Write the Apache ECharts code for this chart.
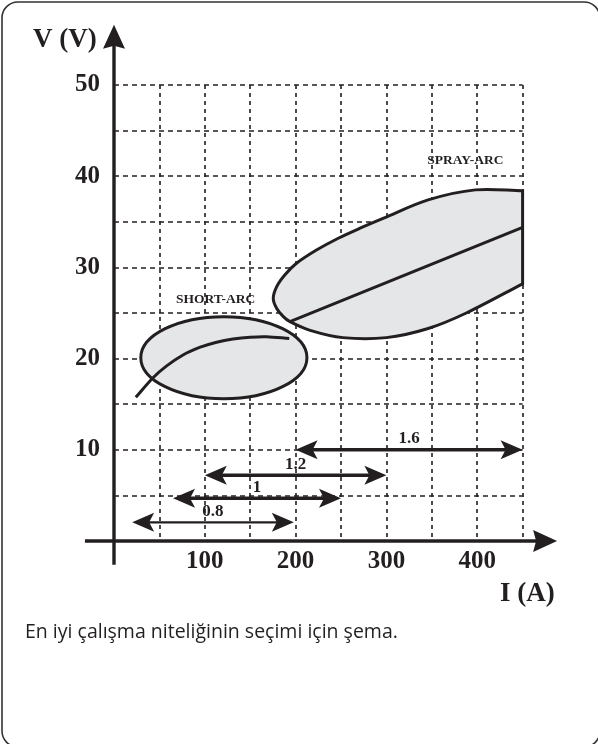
<!DOCTYPE html>
<html>
<head>
<meta charset="utf-8">
<script src="https://cdn.jsdelivr.net/npm/echarts@6/dist/echarts.min.js"></script>
<style>
  html, body { margin: 0; padding: 0; background: #fff; }
  #chart { width: 598px; height: 744px; }
</style>
</head>
<body>
<div id="chart"></div>
<script>
// ---- values ----
const xTickLabels = [100, 200, 300, 400];
const yTickLabels = [10, 20, 30, 40, 50];

// axis arrows: [start x, start y, tip x, tip y] in A / V
const axisLines = [[-32, 0, 488, 0], [0, -2.6, 0, 56.6]];

// short-arc working zone: centre (A, V) and half-widths (A, V)
const shortArcZone = [121, 20.1, 91.5, 4.5];
const shortArcCurve = [[24, 15.75], [43, 17.9], [58, 19.2], [76, 20.4], [95, 21.25], [113, 21.8], [131, 22.15], [150, 22.35], [168, 22.4], [193, 22.2]];

// spray-arc working zone outline
const sprayUpper = [[175.4, 26.6], [179.2, 27.9], [188.3, 29.2], [201, 30.45], [223, 31.9], [247, 33.2], [271, 34.3], [297, 35.4], [346, 37.4], [398, 38.5], [450, 38.4]];
const sprayLower = [[175.4, 26.6], [179.2, 25.5], [186.5, 24.6], [193.8, 24.05], [216, 23.1], [252, 22.3], [300, 22.3], [346, 23.3], [388, 25.0], [450, 28.2]];
const sprayCurve = [[193.8, 24.05], [450, 34.4]];

// wire diameter current ranges
const wireSizes = ['1.6', '1.2', '1', '0.8'];
const wireStart = [200, 100, 65, 20];
const wireEnd = [450, 300, 250, 198];
const wireLevel = [10, 7.2, 4.7, 2.05];

const zoneNames = ['SHORT-ARC', 'SPRAY-ARC'];
const zoneNameX = [112, 387];
const zoneNameY = [26.5, 41.7];

// ---- styles ----
const INK = '#231f20';
const FILL = '#e5e6e8';
const SERIF = '"Liberation Serif", "Times New Roman", serif';
const wireLineWidth = [3.5, 3.5, 3.5, 2.2];

// ---- drawing helpers (pixel space) ----
function arrowHead(tip, dir, len, half, notch) {
  const nx = -dir[1], ny = dir[0];
  const bx = tip[0] - dir[0] * len, by = tip[1] - dir[1] * len;
  return {
    points: [
      tip,
      [bx + nx * half, by + ny * half],
      [tip[0] - dir[0] * (len - notch), tip[1] - dir[1] * (len - notch)],
      [bx - nx * half, by - ny * half]
    ],
    neck: [tip[0] - dir[0] * (len - notch - 1), tip[1] - dir[1] * (len - notch - 1)]
  };
}

function unit(a, b) {
  const dx = b[0] - a[0], dy = b[1] - a[1];
  const l = Math.hypot(dx, dy) || 1;
  return [dx / l, dy / l];
}

// Smooth cubic path through points; tangent lengths follow segment length,
// corner indices get one-sided tangents
function smoothPath(pts, closed, corners) {
  const n = pts.length;
  const cs = new Set(corners || []);
  const dirs = pts.map((p, i) => {
    let a = pts[i - 1], b = pts[i + 1];
    if (closed) { a = pts[(i - 1 + n) % n]; b = pts[(i + 1) % n]; }
    if (!a) a = p;
    if (!b) b = p;
    return unit(a, b);
  });
  let d = 'M' + pts[0][0] + ' ' + pts[0][1];
  const segs = closed ? n : n - 1;
  for (let i = 0; i < segs; i++) {
    const j = (i + 1) % n;
    const p = pts[i], q = pts[j];
    if (cs.has(i) && cs.has(j)) { d += ' L' + q[0] + ' ' + q[1]; continue; }
    const len = Math.hypot(q[0] - p[0], q[1] - p[1]) / 3;
    let t0 = dirs[i], t1 = dirs[j];
    if (cs.has(i)) t0 = unit(p, q);
    if (cs.has(j)) t1 = unit(p, q);
    d += ' C' + (p[0] + t0[0] * len) + ' ' + (p[1] + t0[1] * len) + ' ' +
      (q[0] - t1[0] * len) + ' ' + (q[1] - t1[1] * len) + ' ' + q[0] + ' ' + q[1];
  }
  return closed ? d + ' Z' : d;
}

const chart = echarts.init(document.getElementById('chart'), null, { renderer: 'canvas' });

const option = {
  animation: false,
  backgroundColor: '#fff',
  grid: { left: 114, right: 75.4, top: 85, bottom: 203, containLabel: false },
  xAxis: {
    type: 'value', min: 0, max: 450, interval: 50,
    axisLine: { show: false }, axisTick: { show: false },
    splitLine: { show: true, lineStyle: { color: INK, width: 1.6, type: [4, 4] } },
    axisLabel: {
      margin: 8, fontFamily: SERIF, fontWeight: 'bold', fontSize: 25, color: INK,
      formatter: v => (xTickLabels.includes(v) ? String(v) : '')
    }
  },
  yAxis: {
    type: 'value', min: 0, max: 50, interval: 5,
    axisLine: { show: false }, axisTick: { show: false },
    splitLine: { show: true, lineStyle: { color: INK, width: 1.6, type: [5, 4] } },
    axisLabel: {
      margin: 14, fontFamily: SERIF, fontWeight: 'bold', fontSize: 25, color: INK,
      formatter: v => (yTickLabels.includes(v) ? String(v) : '')
    }
  },
  graphic: [
    {
      type: 'rect', z: 0,
      shape: { x: 2, y: 2, width: 598, height: 745, r: 16 },
      style: { fill: 'none', stroke: '#333', lineWidth: 1.6 }
    },
    {
      type: 'text', left: 33, top: 27,
      style: { text: 'V (V)', font: 'bold 27px ' + SERIF, fill: INK }
    },
    {
      type: 'text', left: 500, top: 581,
      style: { text: 'I (A)', font: 'bold 27px ' + SERIF, fill: INK }
    },
    {
      type: 'text', left: 25, top: 622,
      style: { text: 'En iyi çalışma niteliğinin seçimi için şema.', font: '19.5px "Open Sans", Lato, sans-serif', fill: INK }
    }
  ],
  series: [
    {
      // spray-arc zone
      type: 'custom', z: 3, clip: false,
      data: [[sprayUpper[0][0], sprayUpper[0][1]]],
      renderItem: (params, api) => {
        const loop = sprayUpper.concat(sprayLower.slice(1).reverse()).map(p => api.coord(p));
        const k = sprayUpper.length - 1;
        return {
          type: 'path',
          shape: { pathData: smoothPath(loop, true, [k, k + 1]) },
          style: { fill: FILL, stroke: INK, lineWidth: 3, lineJoin: 'miter' }
        };
      }
    },
    {
      // short-arc zone
      type: 'custom', z: 4, clip: false,
      data: [shortArcZone],
      renderItem: (params, api) => {
        const c = api.coord([api.value(0), api.value(1)]);
        const rx = api.size([api.value(2), 0])[0];
        const ry = api.size([0, api.value(3)])[1];
        const d = 'M' + (c[0] - rx) + ' ' + c[1] +
          ' A' + rx + ' ' + ry + ' 0 1 0 ' + (c[0] + rx) + ' ' + c[1] +
          ' A' + rx + ' ' + ry + ' 0 1 0 ' + (c[0] - rx) + ' ' + c[1] + ' Z';
        return {
          type: 'path',
          shape: { pathData: d },
          style: { fill: FILL, stroke: INK, lineWidth: 3 }
        };
      }
    },
    {
      // arc characteristic curves
      type: 'custom', z: 5, clip: false,
      data: [[0, 0], [1, 0]],
      renderItem: (params, api) => {
        const pts = (params.dataIndex === 0 ? shortArcCurve : sprayCurve).map(p => api.coord(p));
        return {
          type: 'path',
          shape: { pathData: smoothPath(pts, false) },
          style: { fill: 'none', stroke: INK, lineWidth: 3, lineCap: 'butt' }
        };
      }
    },
    {
      // axes with arrow heads
      type: 'custom', z: 6, clip: false,
      data: axisLines,
      renderItem: (params, api) => {
        const a = api.coord([api.value(0), api.value(1)]);
        const b = api.coord([api.value(2), api.value(3)]);
        const h = arrowHead(b, unit(a, b), 24, 11, 3);
        return {
          type: 'group',
          children: [
            { type: 'line', shape: { x1: a[0], y1: a[1], x2: h.neck[0], y2: h.neck[1] },
              style: { stroke: INK, lineWidth: 3.4 } },
            { type: 'polygon', shape: { points: h.points }, style: { fill: INK } }
          ]
        };
      }
    },
    {
      // wire diameter current ranges
      type: 'custom', z: 7, clip: false,
      data: wireSizes.map((s, i) => [wireStart[i], wireLevel[i], wireEnd[i]]),
      renderItem: (params, api) => {
        const i = params.dataIndex;
        const a = api.coord([api.value(0), api.value(1)]);
        const b = api.coord([api.value(2), api.value(1)]);
        const ha = arrowHead(a, unit(b, a), 22, 9.5, 5);
        const hb = arrowHead(b, unit(a, b), 22, 9.5, 5);
        return {
          type: 'group',
          children: [
            { type: 'line', shape: { x1: ha.neck[0], y1: a[1], x2: hb.neck[0], y2: b[1] },
              style: { stroke: INK, lineWidth: wireLineWidth[i] } },
            { type: 'polygon', shape: { points: ha.points }, style: { fill: INK } },
            { type: 'polygon', shape: { points: hb.points }, style: { fill: INK } },
            { type: 'text', x: (a[0] + b[0]) / 2, y: a[1] - 11,
              style: { text: wireSizes[i], font: 'bold 17px ' + SERIF, fill: INK, align: 'center', verticalAlign: 'middle' } }
          ]
        };
      }
    },
    {
      // zone names
      type: 'custom', z: 8, clip: false,
      data: zoneNames.map((s, i) => [zoneNameX[i], zoneNameY[i]]),
      renderItem: (params, api) => {
        const p = api.coord([api.value(0), api.value(1)]);
        return {
          type: 'text', x: p[0], y: p[1],
          style: { text: zoneNames[params.dataIndex], font: 'bold 13.5px ' + SERIF, fill: INK, align: 'center', verticalAlign: 'middle' }
        };
      }
    }
  ]
};

chart.setOption(option);
</script>
</body>
</html>
